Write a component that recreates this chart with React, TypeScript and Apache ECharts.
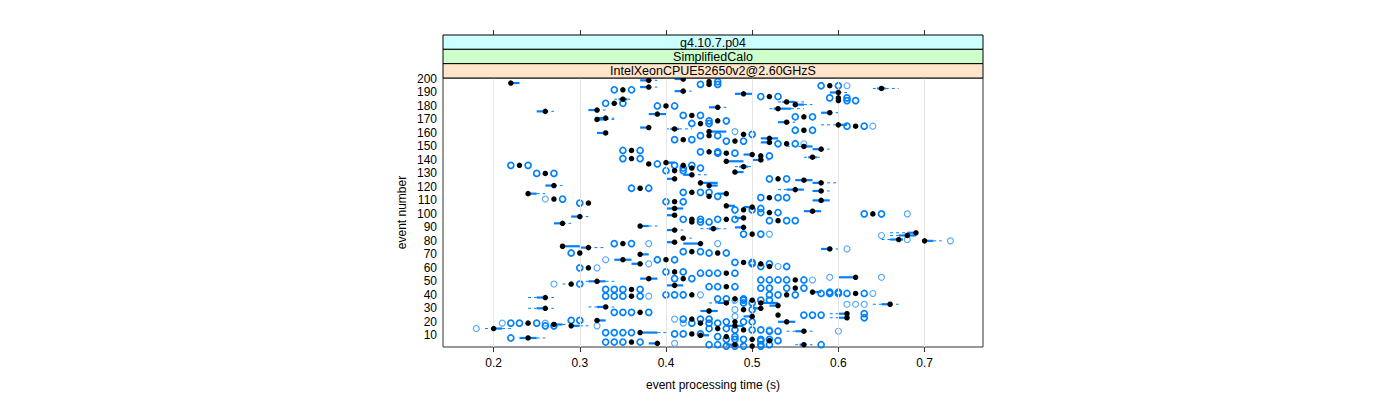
import React, { useEffect, useRef } from "react";
import * as echarts from "echarts";

const xTicks = [0.2, 0.3, 0.4, 0.5, 0.6, 0.7];
const yTicks = [10, 20, 30, 40, 50, 60, 70, 80, 90, 100, 110, 120, 130, 140, 150, 160, 170, 180, 190, 200];
const stripLabels = ["g4.10.7.p04", "SimplifiedCalo", "IntelXeonCPUE52650v2@2.60GHzS"];
const stripColors = ["#ccffff", "#ccffcc", "#ffe5cc"];
const xTitle = "event processing time (s)";
const yTitle = "event number";

// [event, lower whisker, Q1, median, Q3, upper whisker]
const boxStats: number[][] = [
  [200, 0.41, 0.41, 0.42, 0.42, 0.42],
  [199, 0.37, 0.37, 0.38, 0.38, 0.39],
  [198, 0.45, 0.45, 0.45, 0.45, 0.45],
  [197, 0.22, 0.22, 0.22, 0.23, 0.23],
  [196, 0.45, 0.45, 0.45, 0.45, 0.45],
  [195, 0.59, 0.59, 0.59, 0.59, 0.59],
  [194, 0.37, 0.37, 0.38, 0.38, 0.39],
  [193, 0.64, 0.645, 0.65, 0.655, 0.67],
  [192, 0.35, 0.35, 0.35, 0.35, 0.35],
  [191, 0.41, 0.41, 0.42, 0.42, 0.43],
  [190, 0.59, 0.59, 0.6, 0.6, 0.61],
  [189, 0.48, 0.48, 0.49, 0.5, 0.5],
  [187, 0.52, 0.52, 0.52, 0.52, 0.52],
  [186, 0.6, 0.6, 0.6, 0.6, 0.6],
  [185, 0.34, 0.345, 0.35, 0.355, 0.36],
  [184, 0.6, 0.6, 0.6, 0.6, 0.6],
  [183, 0.53, 0.535, 0.54, 0.55, 0.56],
  [182, 0.34, 0.34, 0.34, 0.34, 0.34],
  [181, 0.55, 0.55, 0.55, 0.56, 0.57],
  [180, 0.4, 0.4, 0.4, 0.4, 0.4],
  [179, 0.45, 0.45, 0.46, 0.46, 0.47],
  [178, 0.52, 0.525, 0.53, 0.545, 0.56],
  [177, 0.31, 0.31, 0.32, 0.32, 0.33],
  [176, 0.25, 0.25, 0.26, 0.26, 0.27],
  [175, 0.58, 0.58, 0.59, 0.59, 0.6],
  [174, 0.38, 0.38, 0.39, 0.4, 0.4],
  [173, 0.43, 0.43, 0.43, 0.43, 0.43],
  [172, 0.56, 0.56, 0.56, 0.56, 0.56],
  [171, 0.32, 0.32, 0.33, 0.33, 0.34],
  [170, 0.32, 0.32, 0.32, 0.33, 0.34],
  [169, 0.46, 0.46, 0.46, 0.46, 0.46],
  [168, 0.53, 0.53, 0.54, 0.54, 0.55],
  [167, 0.44, 0.44, 0.44, 0.44, 0.44],
  [166, 0.58, 0.6, 0.6, 0.61, 0.61],
  [165, 0.62, 0.62, 0.62, 0.62, 0.62],
  [164, 0.37, 0.37, 0.38, 0.38, 0.38],
  [163, 0.4, 0.405, 0.41, 0.415, 0.43],
  [162, 0.56, 0.56, 0.56, 0.56, 0.56],
  [161, 0.45, 0.45, 0.45, 0.47, 0.47],
  [160, 0.32, 0.32, 0.33, 0.33, 0.33],
  [159, 0.49, 0.49, 0.49, 0.49, 0.49],
  [158, 0.45, 0.45, 0.45, 0.45, 0.45],
  [156, 0.51, 0.51, 0.52, 0.53, 0.53],
  [155, 0.42, 0.42, 0.42, 0.42, 0.42],
  [154, 0.48, 0.48, 0.48, 0.48, 0.48],
  [153, 0.51, 0.51, 0.52, 0.52, 0.52],
  [152, 0.54, 0.54, 0.54, 0.54, 0.54],
  [150, 0.54, 0.56, 0.56, 0.57, 0.57],
  [148, 0.57, 0.57, 0.58, 0.58, 0.59],
  [147, 0.36, 0.36, 0.36, 0.36, 0.36],
  [146, 0.45, 0.45, 0.45, 0.45, 0.45],
  [145, 0.47, 0.47, 0.47, 0.47, 0.47],
  [144, 0.49, 0.49, 0.5, 0.5, 0.5],
  [143, 0.51, 0.51, 0.51, 0.51, 0.51],
  [142, 0.56, 0.565, 0.57, 0.575, 0.58],
  [141, 0.36, 0.36, 0.36, 0.36, 0.36],
  [140, 0.5, 0.5, 0.51, 0.51, 0.52],
  [139, 0.47, 0.47, 0.47, 0.49, 0.49],
  [138, 0.4, 0.4, 0.4, 0.41, 0.41],
  [137, 0.38, 0.38, 0.38, 0.38, 0.38],
  [136, 0.42, 0.42, 0.42, 0.42, 0.42],
  [136, 0.23, 0.23, 0.23, 0.23, 0.23],
  [135, 0.48, 0.485, 0.49, 0.495, 0.5],
  [134, 0.43, 0.43, 0.43, 0.43, 0.43],
  [132, 0.41, 0.41, 0.41, 0.41, 0.41],
  [131, 0.48, 0.48, 0.48, 0.49, 0.49],
  [130, 0.26, 0.26, 0.26, 0.26, 0.26],
  [129, 0.42, 0.42, 0.43, 0.43, 0.45],
  [126, 0.53, 0.53, 0.53, 0.53, 0.53],
  [126, 0.4, 0.4, 0.41, 0.41, 0.41],
  [125, 0.55, 0.55, 0.56, 0.57, 0.57],
  [123, 0.57, 0.57, 0.58, 0.58, 0.6],
  [123, 0.44, 0.44, 0.44, 0.46, 0.46],
  [121, 0.26, 0.26, 0.27, 0.27, 0.28],
  [121, 0.45, 0.45, 0.45, 0.46, 0.46],
  [119, 0.37, 0.37, 0.37, 0.37, 0.37],
  [118, 0.53, 0.54, 0.55, 0.56, 0.56],
  [117, 0.57, 0.57, 0.58, 0.58, 0.59],
  [116, 0.43, 0.43, 0.43, 0.43, 0.43],
  [115, 0.24, 0.24, 0.24, 0.25, 0.26],
  [115, 0.46, 0.46, 0.47, 0.47, 0.47],
  [113, 0.45, 0.45, 0.45, 0.45, 0.45],
  [112, 0.52, 0.52, 0.52, 0.52, 0.52],
  [111, 0.27, 0.27, 0.27, 0.27, 0.27],
  [110, 0.57, 0.57, 0.58, 0.59, 0.59],
  [109, 0.41, 0.41, 0.41, 0.41, 0.41],
  [108, 0.31, 0.31, 0.31, 0.31, 0.31],
  [106, 0.47, 0.47, 0.47, 0.48, 0.48],
  [105, 0.49, 0.49, 0.5, 0.5, 0.5],
  [104, 0.4, 0.4, 0.41, 0.42, 0.42],
  [103, 0.49, 0.49, 0.49, 0.49, 0.49],
  [102, 0.56, 0.56, 0.57, 0.58, 0.58],
  [101, 0.52, 0.52, 0.52, 0.52, 0.52],
  [100, 0.64, 0.64, 0.64, 0.64, 0.64],
  [99, 0.4, 0.4, 0.41, 0.41, 0.41],
  [98, 0.29, 0.29, 0.3, 0.3, 0.31],
  [97, 0.48, 0.48, 0.49, 0.49, 0.49],
  [96, 0.43, 0.43, 0.43, 0.43, 0.43],
  [96, 0.47, 0.47, 0.47, 0.47, 0.47],
  [95, 0.53, 0.53, 0.53, 0.53, 0.53],
  [94, 0.43, 0.43, 0.43, 0.43, 0.43],
  [93, 0.27, 0.27, 0.28, 0.28, 0.29],
  [91, 0.37, 0.37, 0.37, 0.38, 0.39],
  [90, 0.48, 0.48, 0.49, 0.49, 0.49],
  [89, 0.44, 0.45, 0.455, 0.46, 0.47],
  [88, 0.4, 0.4, 0.41, 0.41, 0.42],
  [86, 0.66, 0.68, 0.69, 0.69, 0.69],
  [85, 0.5, 0.5, 0.5, 0.5, 0.5],
  [84, 0.66, 0.67, 0.68, 0.69, 0.69],
  [82, 0.42, 0.42, 0.42, 0.42, 0.43],
  [81, 0.65, 0.66, 0.67, 0.675, 0.675],
  [80, 0.7, 0.7, 0.7, 0.71, 0.72],
  [79, 0.4, 0.4, 0.41, 0.41, 0.41],
  [78, 0.35, 0.35, 0.35, 0.35, 0.35],
  [78, 0.42, 0.42, 0.44, 0.44, 0.44],
  [76, 0.28, 0.28, 0.28, 0.3, 0.3],
  [75, 0.3, 0.3, 0.31, 0.31, 0.33],
  [74, 0.58, 0.58, 0.59, 0.59, 0.6],
  [72, 0.43, 0.43, 0.43, 0.43, 0.43],
  [71, 0.3, 0.3, 0.3, 0.3, 0.3],
  [71, 0.46, 0.46, 0.46, 0.46, 0.46],
  [70, 0.37, 0.37, 0.37, 0.38, 0.38],
  [66, 0.34, 0.34, 0.35, 0.36, 0.36],
  [66, 0.4, 0.4, 0.4, 0.4, 0.4],
  [64, 0.49, 0.49, 0.49, 0.49, 0.49],
  [63, 0.36, 0.36, 0.37, 0.37, 0.375],
  [63, 0.51, 0.51, 0.51, 0.51, 0.51],
  [61, 0.52, 0.52, 0.52, 0.52, 0.52],
  [60, 0.31, 0.31, 0.31, 0.31, 0.31],
  [57, 0.41, 0.41, 0.41, 0.41, 0.41],
  [56, 0.47, 0.47, 0.47, 0.47, 0.47],
  [53, 0.6, 0.6, 0.62, 0.62, 0.62],
  [52, 0.37, 0.37, 0.38, 0.39, 0.39],
  [52, 0.42, 0.42, 0.42, 0.42, 0.42],
  [51, 0.55, 0.55, 0.55, 0.55, 0.55],
  [50, 0.3, 0.31, 0.32, 0.33, 0.34],
  [48, 0.28, 0.29, 0.29, 0.29, 0.29],
  [47, 0.4, 0.4, 0.41, 0.42, 0.42],
  [46, 0.47, 0.47, 0.47, 0.47, 0.47],
  [45, 0.55, 0.55, 0.55, 0.55, 0.55],
  [44, 0.36, 0.36, 0.36, 0.36, 0.36],
  [42, 0.57, 0.57, 0.57, 0.58, 0.58],
  [41, 0.62, 0.62, 0.62, 0.62, 0.62],
  [40, 0.54, 0.54, 0.54, 0.54, 0.54],
  [40, 0.43, 0.43, 0.43, 0.43, 0.43],
  [39, 0.36, 0.36, 0.36, 0.36, 0.36],
  [38, 0.24, 0.25, 0.26, 0.26, 0.27],
  [37, 0.48, 0.48, 0.48, 0.48, 0.48],
  [36, 0.5, 0.5, 0.5, 0.5, 0.5],
  [34, 0.45, 0.46, 0.47, 0.47, 0.48],
  [34, 0.51, 0.51, 0.51, 0.53, 0.53],
  [33, 0.64, 0.65, 0.66, 0.66, 0.67],
  [32, 0.52, 0.52, 0.53, 0.53, 0.53],
  [31, 0.31, 0.32, 0.33, 0.33, 0.34],
  [30, 0.24, 0.25, 0.26, 0.26, 0.27],
  [30, 0.5, 0.5, 0.51, 0.51, 0.51],
  [29, 0.49, 0.49, 0.49, 0.49, 0.49],
  [28, 0.44, 0.44, 0.45, 0.46, 0.46],
  [27, 0.37, 0.37, 0.37, 0.37, 0.37],
  [26, 0.59, 0.6, 0.61, 0.61, 0.61],
  [25, 0.53, 0.53, 0.53, 0.53, 0.53],
  [24, 0.49, 0.49, 0.5, 0.5, 0.5],
  [23, 0.59, 0.6, 0.61, 0.61, 0.61],
  [22, 0.43, 0.43, 0.43, 0.43, 0.43],
  [21, 0.32, 0.32, 0.32, 0.33, 0.33],
  [20, 0.53, 0.53, 0.54, 0.55, 0.55],
  [20, 0.48, 0.48, 0.48, 0.48, 0.48],
  [19, 0.24, 0.24, 0.24, 0.24, 0.24],
  [19, 0.44, 0.44, 0.44, 0.44, 0.44],
  [18, 0.27, 0.27, 0.27, 0.28, 0.285],
  [17, 0.29, 0.29, 0.29, 0.3, 0.31],
  [17, 0.47, 0.47, 0.48, 0.49, 0.49],
  [15, 0.19, 0.2, 0.2, 0.21, 0.22],
  [15, 0.46, 0.46, 0.46, 0.46, 0.46],
  [14, 0.49, 0.49, 0.49, 0.49, 0.49],
  [13, 0.54, 0.55, 0.56, 0.56, 0.57],
  [12, 0.37, 0.37, 0.37, 0.39, 0.4],
  [11, 0.43, 0.43, 0.43, 0.43, 0.43],
  [10, 0.44, 0.44, 0.44, 0.45, 0.45],
  [9, 0.47, 0.47, 0.47, 0.47, 0.47],
  [8, 0.23, 0.23, 0.24, 0.25, 0.26],
  [7, 0.5, 0.5, 0.5, 0.5, 0.5],
  [6, 0.52, 0.52, 0.52, 0.52, 0.52],
  [5, 0.36, 0.36, 0.36, 0.36, 0.36],
  [4, 0.38, 0.38, 0.39, 0.39, 0.39],
  [3, 0.55, 0.555, 0.56, 0.56, 0.57],
  [3, 0.47, 0.47, 0.48, 0.48, 0.49],
  [2, 0.5, 0.5, 0.5, 0.5, 0.5],
];

// [event, value, overplot count]
const outlierPoints: number[][] = [
  [198, 0.46, 2], [196, 0.44, 2], [196, 0.46, 2],
  [195, 0.58, 2], [195, 0.6, 2], [195, 0.61, 1],
  [192, 0.34, 2], [192, 0.36, 2],
  [187, 0.51, 2], [187, 0.53, 2],
  [186, 0.59, 2], [186, 0.61, 2],
  [184, 0.61, 2], [184, 0.62, 2],
  [182, 0.33, 2], [182, 0.35, 2],
  [180, 0.39, 2], [180, 0.41, 2],
  [173, 0.42, 2], [173, 0.44, 2],
  [172, 0.55, 2], [172, 0.57, 2],
  [169, 0.45, 2], [169, 0.47, 2],
  [167, 0.43, 2], [167, 0.45, 2],
  [165, 0.61, 2], [165, 0.63, 2], [165, 0.64, 1],
  [162, 0.55, 2], [162, 0.57, 2],
  [161, 0.48, 1],
  [159, 0.5, 2],
  [158, 0.44, 2], [158, 0.46, 2],
  [155, 0.41, 2], [155, 0.43, 2],
  [154, 0.47, 2], [154, 0.49, 2],
  [152, 0.53, 2], [152, 0.55, 2], [152, 0.56, 1],
  [147, 0.35, 2], [147, 0.37, 2],
  [146, 0.44, 2], [146, 0.46, 2],
  [145, 0.46, 2], [145, 0.48, 2],
  [143, 0.52, 2],
  [141, 0.35, 2], [141, 0.37, 2],
  [137, 0.39, 2],
  [136, 0.41, 2], [136, 0.43, 2],
  [136, 0.22, 2], [136, 0.24, 2],
  [134, 0.42, 2], [134, 0.44, 2],
  [132, 0.4, 2], [132, 0.42, 2],
  [130, 0.25, 2], [130, 0.27, 2],
  [126, 0.52, 2], [126, 0.54, 2],
  [119, 0.36, 2], [119, 0.38, 2],
  [116, 0.42, 2], [116, 0.44, 2], [116, 0.45, 2],
  [113, 0.46, 2],
  [112, 0.51, 2], [112, 0.53, 2], [112, 0.54, 2],
  [111, 0.26, 1], [111, 0.28, 2],
  [109, 0.4, 2], [109, 0.42, 2],
  [108, 0.3, 2],
  [104, 0.51, 2],
  [103, 0.48, 2], [103, 0.5, 2],
  [101, 0.51, 2], [101, 0.53, 2],
  [100, 0.63, 2], [100, 0.65, 2], [100, 0.68, 1],
  [96, 0.42, 2], [96, 0.44, 2],
  [96, 0.46, 2], [96, 0.48, 2],
  [95, 0.52, 2], [95, 0.54, 2], [95, 0.55, 2],
  [94, 0.44, 2], [94, 0.45, 2],
  [85, 0.49, 2], [85, 0.51, 2], [85, 0.52, 1],
  [84, 0.65, 1],
  [81, 0.68, 1],
  [80, 0.73, 1],
  [78, 0.34, 2], [78, 0.36, 2], [78, 0.38, 1],
  [78, 0.46, 1],
  [74, 0.61, 1],
  [72, 0.42, 2], [72, 0.44, 2],
  [71, 0.29, 2],
  [71, 0.45, 2], [71, 0.47, 2],
  [66, 0.33, 1],
  [66, 0.39, 2], [66, 0.41, 2],
  [64, 0.48, 2], [64, 0.5, 2],
  [63, 0.38, 1],
  [63, 0.5, 2], [63, 0.52, 2],
  [61, 0.51, 2], [61, 0.53, 1], [61, 0.54, 2],
  [60, 0.3, 2], [60, 0.32, 1],
  [57, 0.4, 2], [57, 0.42, 2],
  [56, 0.44, 2], [56, 0.45, 2], [56, 0.46, 2], [56, 0.48, 2],
  [53, 0.59, 1], [53, 0.65, 1],
  [52, 0.41, 2], [52, 0.43, 2],
  [51, 0.51, 2], [51, 0.52, 2], [51, 0.53, 2], [51, 0.54, 2], [51, 0.56, 2], [51, 0.57, 1],
  [48, 0.27, 1], [48, 0.3, 2],
  [46, 0.45, 2], [46, 0.46, 2], [46, 0.48, 2],
  [45, 0.51, 2], [45, 0.52, 2], [45, 0.54, 2], [45, 0.56, 2],
  [44, 0.33, 2], [44, 0.34, 2], [44, 0.35, 2], [44, 0.37, 2],
  [42, 0.59, 2], [42, 0.6, 2],
  [41, 0.58, 2], [41, 0.59, 2], [41, 0.6, 2], [41, 0.61, 2], [41, 0.63, 2], [41, 0.64, 1],
  [40, 0.52, 2], [40, 0.53, 2], [40, 0.55, 2],
  [40, 0.4, 2], [40, 0.41, 2], [40, 0.42, 2], [40, 0.44, 1],
  [39, 0.33, 2], [39, 0.34, 2], [39, 0.35, 2], [39, 0.37, 2], [39, 0.38, 1],
  [37, 0.46, 2], [37, 0.47, 2], [37, 0.49, 2],
  [36, 0.48, 1], [36, 0.49, 2], [36, 0.51, 2], [36, 0.52, 2],
  [34, 0.49, 2], [34, 0.5, 2],
  [33, 0.61, 1], [33, 0.62, 1], [33, 0.63, 1],
  [29, 0.48, 1], [29, 0.5, 2],
  [27, 0.34, 2], [27, 0.35, 2], [27, 0.36, 2], [27, 0.38, 2],
  [26, 0.63, 2],
  [25, 0.56, 2], [25, 0.57, 2], [25, 0.58, 2],
  [24, 0.48, 1],
  [23, 0.63, 2],
  [22, 0.41, 1], [22, 0.42, 2], [22, 0.44, 2], [22, 0.45, 2],
  [21, 0.29, 2], [21, 0.3, 2],
  [20, 0.47, 2], [20, 0.49, 2], [20, 0.5, 2],
  [19, 0.21, 1], [19, 0.22, 2], [19, 0.23, 2], [19, 0.25, 2], [19, 0.26, 1],
  [19, 0.42, 1], [19, 0.43, 2], [19, 0.45, 2], [19, 0.46, 2],
  [17, 0.26, 2], [17, 0.27, 2], [17, 0.32, 1],
  [15, 0.18, 1],
  [15, 0.45, 2], [15, 0.47, 2],
  [14, 0.48, 2], [14, 0.5, 2], [14, 0.51, 2], [14, 0.52, 1],
  [13, 0.52, 2], [13, 0.53, 2], [13, 0.6, 1],
  [12, 0.33, 2], [12, 0.34, 2], [12, 0.35, 2], [12, 0.36, 2],
  [11, 0.41, 2], [11, 0.42, 2], [11, 0.44, 2],
  [9, 0.46, 2], [9, 0.48, 2],
  [8, 0.22, 2],
  [7, 0.47, 2], [7, 0.48, 2], [7, 0.49, 2], [7, 0.51, 2], [7, 0.52, 2],
  [6, 0.51, 2], [6, 0.53, 2],
  [5, 0.33, 2], [5, 0.34, 2], [5, 0.35, 2], [5, 0.37, 2],
  [4, 0.41, 1],
  [3, 0.58, 2], [3, 0.51, 2], [3, 0.52, 2],
  [3, 0.45, 2], [3, 0.46, 2],
  [2, 0.47, 2], [2, 0.48, 2], [2, 0.49, 2], [2, 0.51, 2],
];

const BLUE = "#0080ff";
const FONT = "'Liberation Sans', Arial, Helvetica, sans-serif";

export default function App() {
  const ref = useRef<HTMLDivElement>(null);
  useEffect(() => {
    if (!ref.current) return;
    const chart = echarts.init(ref.current, undefined, { renderer: "svg" });
    const gridLeft = 443;
    const gridTop = 78;
    const gridW = 540;
    const gridH = 269;
    const stripH = 14.33;
    const graphics: any[] = [];
    stripLabels.forEach((label, i) => {
      const y = gridTop - stripH * 3 + i * stripH;
      graphics.push({
        type: "rect",
        shape: { x: gridLeft, y, width: gridW, height: stripH },
        style: { fill: stripColors[i], stroke: "#000", lineWidth: 1 },
        z: 10,
      });
      graphics.push({
        type: "text",
        x: gridLeft + gridW / 2,
        y: y + stripH / 2 + 0.5,
        style: {
          text: label,
          fill: "#000",
          font: `12.5px ${FONT}`,
          textAlign: "center",
          textVerticalAlign: "middle",
        },
        z: 11,
      });
    });

    const option: any = {
      animation: false,
      textStyle: { fontFamily: FONT },
      graphic: graphics,
      grid: {
        left: gridLeft,
        top: gridTop,
        width: gridW,
        height: gridH,
        show: true,
        borderColor: "#333",
        borderWidth: 1,
        backgroundColor: "transparent",
      },
      xAxis: [
        {
          type: "value",
          min: 0.1413,
          max: 0.7678,
          position: "bottom",
          name: xTitle,
          nameLocation: "middle",
          nameGap: 32,
          nameTextStyle: { color: "#000", fontSize: 12, fontFamily: FONT },
          axisLine: { show: false },
          axisTick: { show: true, length: 5, customValues: xTicks, lineStyle: { color: "#333" } },
          axisLabel: { customValues: xTicks, color: "#000", fontSize: 12, margin: 10, formatter: (v: number) => v.toFixed(1) },
          splitLine: { show: false },
        },
        {
          type: "value",
          min: 0.1413,
          max: 0.7678,
          position: "top",
          offset: stripH * 3,
          axisLine: { show: false },
          axisTick: { show: true, length: 5, customValues: xTicks, lineStyle: { color: "#333" } },
          axisLabel: { show: false },
          splitLine: { show: false },
        },
      ],
      yAxis: {
        type: "value",
        min: 1.31,
        max: 200.74,
        name: yTitle,
        nameLocation: "middle",
        nameGap: 35,
        nameRotate: 90,
        nameTextStyle: { color: "#000", fontSize: 12, fontFamily: FONT },
        axisLine: { show: false },
        axisTick: { show: false, customValues: yTicks },
        axisLabel: { customValues: yTicks, color: "#000", fontSize: 12, margin: 6 },
        splitLine: { show: false },
      },
      series: [
        {
          type: "scatter",
          data: [],
          z: 1,
          silent: true,
          markLine: {
            silent: true,
            symbol: "none",
            label: { show: false },
            lineStyle: { color: "#e6e6e6", width: 1, type: "solid" },
            data: xTicks.map((v) => ({ xAxis: v })),
          },
        },
        {
          type: "custom",
          z: 2,
          clip: true,
          data: boxStats,
          encode: { x: [1, 2, 3, 4, 5], y: 0 },
          renderItem: (_params: any, api: any) => {
            const ev = api.value(0);
            const pLo = api.coord([api.value(1), ev]);
            const pQ1 = api.coord([api.value(2), ev]);
            const pQ3 = api.coord([api.value(4), ev]);
            const pHi = api.coord([api.value(5), ev]);
            const y = pLo[1];
            const children: any[] = [];
            const dash = { stroke: BLUE, lineWidth: 1, lineDash: [3, 3] };
            if (pQ1[0] - pLo[0] > 0.5) {
              children.push({ type: "line", shape: { x1: pLo[0], y1: y, x2: pQ1[0], y2: y }, style: dash });
            }
            if (pHi[0] - pQ3[0] > 0.5) {
              children.push({ type: "line", shape: { x1: pQ3[0], y1: y, x2: pHi[0], y2: y }, style: dash });
            }
            if (pQ3[0] - pQ1[0] > 0.5) {
              children.push({
                type: "rect",
                shape: { x: pQ1[0], y: y - 1.1, width: pQ3[0] - pQ1[0], height: 2.2 },
                style: { fill: BLUE },
              });
            }
            return { type: "group", children };
          },
        },
        {
          type: "scatter",
          z: 3,
          data: outlierPoints.filter((p) => p[2] < 2).map((p) => [p[1], p[0]]),
          symbol: "circle",
          symbolSize: 6,
          itemStyle: { color: "rgba(0,0,0,0)", borderColor: "#4da6ff", borderWidth: 1.1, opacity: 1 },
        },
        {
          type: "scatter",
          z: 4,
          data: outlierPoints.filter((p) => p[2] >= 2).map((p) => [p[1], p[0]]),
          symbol: "circle",
          symbolSize: 6,
          itemStyle: { color: "rgba(0,0,0,0)", borderColor: BLUE, borderWidth: 1.7, opacity: 1 },
        },
        {
          type: "scatter",
          z: 5,
          data: boxStats.map((b) => [b[3], b[0]]),
          symbol: "circle",
          symbolSize: 5.5,
          itemStyle: { color: "#000", opacity: 1 },
        },
      ],
    };
    chart.setOption(option);
    return () => chart.dispose();
  }, []);
  return (
    <div
      ref={ref}
      style={{ position: "fixed", left: 0, top: 0, width: 1400, height: 400, background: "#fff" }}
    />
  );
}
